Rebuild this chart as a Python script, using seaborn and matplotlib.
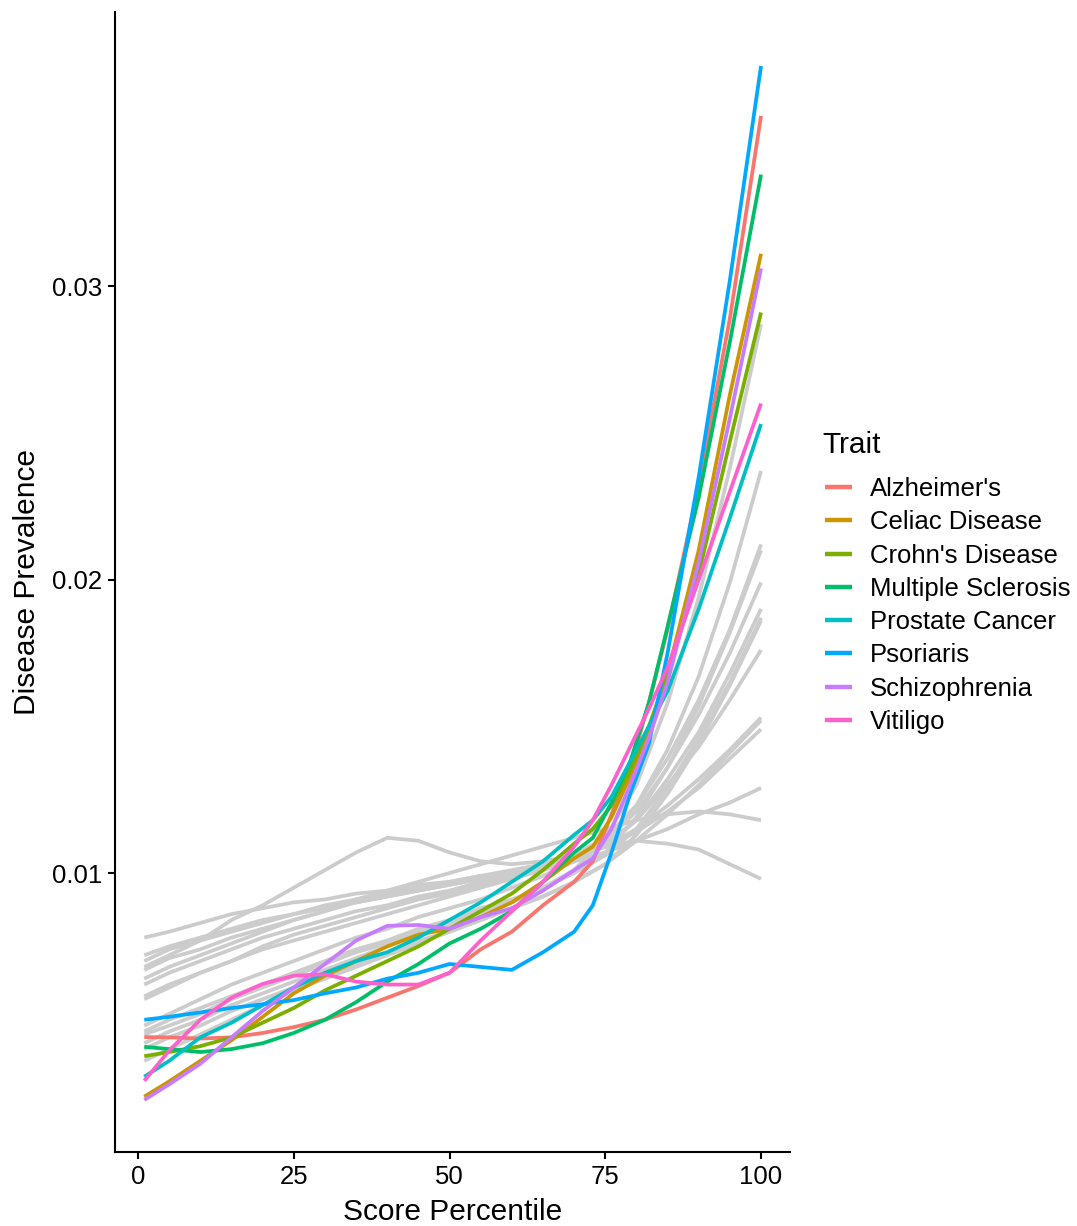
import numpy as np
import pandas as pd
import matplotlib
matplotlib.use("Agg")
import matplotlib.pyplot as plt
import seaborn as sns

# Percentile positions at which each smoothed curve is tabulated
trait_x = [1, 5, 10, 15, 20, 25, 30, 35, 40, 45, 50, 55, 60, 65, 70,
           73, 76, 79, 82, 85, 90, 95, 100]
background_x = [1, 5, 10, 15, 20, 25, 30, 35, 40, 45, 50, 55, 60, 65, 70,
                75, 80, 85, 90, 95, 100]

traits = ["Alzheimer's", "Celiac Disease", "Crohn's Disease", "Multiple Sclerosis",
          "Prostate Cancer", "Psoriaris", "Schizophrenia", "Vitiligo"]
trait_colors = ["#F8766D", "#CD9600", "#7CAE00", "#00BE67",
                "#00BFC4", "#00A9FF", "#C77CFF", "#FF61CC"]

alzheimers = [0.00441, 0.00440, 0.00436, 0.00440, 0.00455, 0.00475, 0.00500, 0.00535,
              0.00575, 0.00615, 0.00660, 0.00740, 0.00800, 0.00890, 0.00970,
              0.01040, 0.01200, 0.01360, 0.01580, 0.01830, 0.02320, 0.02890, 0.03580]
celiac = [0.00238, 0.00290, 0.00360, 0.00430, 0.00510, 0.00590, 0.00650, 0.00700,
          0.00750, 0.00790, 0.00810, 0.00850, 0.00900, 0.00970, 0.01050,
          0.01090, 0.01190, 0.01330, 0.01480, 0.01680, 0.02100, 0.02630, 0.03110]
crohns = [0.00376, 0.00390, 0.00410, 0.00440, 0.00490, 0.00540, 0.00600, 0.00650,
          0.00700, 0.00750, 0.00810, 0.00870, 0.00930, 0.01010, 0.01100,
          0.01150, 0.01230, 0.01350, 0.01500, 0.01680, 0.02020, 0.02470, 0.02910]
multiple_sclerosis = [0.00408, 0.00400, 0.00390, 0.00400, 0.00420, 0.00455, 0.00500, 0.00560,
                      0.00630, 0.00690, 0.00760, 0.00810, 0.00870, 0.00970, 0.01070,
                      0.01120, 0.01240, 0.01380, 0.01580, 0.01840, 0.02280, 0.02810, 0.03380]
prostate = [0.00306, 0.00360, 0.00440, 0.00490, 0.00550, 0.00610, 0.00660, 0.00700,
            0.00730, 0.00780, 0.00840, 0.00900, 0.00970, 0.01040, 0.01130,
            0.01180, 0.01260, 0.01380, 0.01500, 0.01620, 0.01900, 0.02210, 0.02530]
psoriaris = [0.00500, 0.00510, 0.00525, 0.00540, 0.00553, 0.00567, 0.00590, 0.00610,
             0.00640, 0.00660, 0.00690, 0.00680, 0.00670, 0.00730, 0.00800,
             0.00890, 0.01070, 0.01270, 0.01440, 0.01750, 0.02350, 0.03020, 0.03750]
schizophrenia = [0.00227, 0.00280, 0.00350, 0.00440, 0.00530, 0.00610, 0.00690, 0.00770,
                 0.00820, 0.00823, 0.00810, 0.00850, 0.00880, 0.00940, 0.01010,
                 0.01050, 0.01150, 0.01300, 0.01460, 0.01650, 0.02060, 0.02550, 0.03060]
vitiligo = [0.00292, 0.00395, 0.00500, 0.00575, 0.00622, 0.00650, 0.00655, 0.00630,
            0.00620, 0.00620, 0.00660, 0.00770, 0.00870, 0.00970, 0.01090,
            0.01180, 0.01300, 0.01430, 0.01560, 0.01700, 0.02000, 0.02300, 0.02600]

trait_values = [alzheimers, celiac, crohns, multiple_sclerosis,
                prostate, psoriaris, schizophrenia, vitiligo]

# Remaining traits, drawn in grey behind the highlighted ones
bg01 = [0.0045, 0.0048, 0.0052, 0.0057, 0.0061, 0.0065, 0.0069, 0.0073, 0.0076, 0.0080, 0.0083,
        0.0087, 0.0090, 0.0095, 0.0101, 0.0112, 0.0130, 0.0158, 0.0194, 0.0238, 0.0287]
bg02 = [0.0048, 0.0052, 0.0057, 0.0062, 0.0066, 0.0070, 0.0074, 0.0078, 0.0081, 0.0085, 0.0088,
        0.0091, 0.0095, 0.0099, 0.0104, 0.0111, 0.0123, 0.0142, 0.0167, 0.0199, 0.0237]
bg03 = [0.0058, 0.0062, 0.0066, 0.0070, 0.0074, 0.0077, 0.0080, 0.0083, 0.0086, 0.0089, 0.0092,
        0.0095, 0.0098, 0.0102, 0.0106, 0.0112, 0.0123, 0.0139, 0.0159, 0.0183, 0.0212]
bg04 = [0.0042, 0.0046, 0.0050, 0.0055, 0.0059, 0.0063, 0.0067, 0.0071, 0.0075, 0.0079, 0.0082,
        0.0086, 0.0090, 0.0095, 0.0100, 0.0107, 0.0119, 0.0136, 0.0157, 0.0182, 0.0210]
bg05 = [0.0062, 0.0066, 0.0070, 0.0074, 0.0078, 0.0081, 0.0084, 0.0087, 0.0089, 0.0092, 0.0094,
        0.0097, 0.0099, 0.0102, 0.0106, 0.0111, 0.0121, 0.0136, 0.0154, 0.0175, 0.0199]
bg06 = [0.0067, 0.0071, 0.0074, 0.0078, 0.0081, 0.0084, 0.0087, 0.0090, 0.0092, 0.0094, 0.0096,
        0.0098, 0.0100, 0.0102, 0.0105, 0.0109, 0.0118, 0.0132, 0.0148, 0.0168, 0.0190]
bg07 = [0.0046, 0.0050, 0.0054, 0.0058, 0.0062, 0.0066, 0.0070, 0.0074, 0.0077, 0.0081, 0.0084,
        0.0088, 0.0091, 0.0095, 0.0100, 0.0106, 0.0115, 0.0129, 0.0146, 0.0165, 0.0187]
bg08 = [0.0040, 0.0044, 0.0048, 0.0053, 0.0057, 0.0061, 0.0065, 0.0069, 0.0073, 0.0077, 0.0080,
        0.0084, 0.0088, 0.0092, 0.0097, 0.0103, 0.0113, 0.0127, 0.0144, 0.0164, 0.0186]
bg09 = [0.0070, 0.0074, 0.0077, 0.0080, 0.0083, 0.0086, 0.0088, 0.0090, 0.0092, 0.0094, 0.0096,
        0.0098, 0.0100, 0.0103, 0.0106, 0.0110, 0.0118, 0.0130, 0.0143, 0.0159, 0.0176]
bg10 = [0.0078, 0.0080, 0.0083, 0.0086, 0.0088, 0.0090, 0.0091, 0.0093, 0.0094, 0.0096, 0.0097,
        0.0099, 0.0100, 0.0102, 0.0105, 0.0109, 0.0115, 0.0123, 0.0132, 0.0142, 0.0153]
bg11 = [0.0036, 0.0040, 0.0045, 0.0050, 0.0055, 0.0060, 0.0064, 0.0068, 0.0072, 0.0076, 0.0080,
        0.0084, 0.0088, 0.0092, 0.0097, 0.0103, 0.0111, 0.0120, 0.0130, 0.0141, 0.0152]
bg12 = [0.0072, 0.0075, 0.0078, 0.0081, 0.0084, 0.0086, 0.0089, 0.0091, 0.0093, 0.0095, 0.0097,
        0.0099, 0.0101, 0.0103, 0.0106, 0.0109, 0.0114, 0.0121, 0.0129, 0.0139, 0.0149]
bg13 = [0.0057, 0.0061, 0.0066, 0.0070, 0.0075, 0.0079, 0.0082, 0.0085, 0.0088, 0.0091, 0.0093,
        0.0096, 0.0098, 0.0101, 0.0104, 0.0107, 0.0111, 0.0115, 0.0120, 0.0124, 0.0129]
bg14 = [0.0064, 0.0068, 0.0072, 0.0076, 0.0080, 0.0084, 0.0087, 0.0091, 0.0094, 0.0097, 0.0100,
        0.0103, 0.0106, 0.0109, 0.0112, 0.0115, 0.0118, 0.0120, 0.0121, 0.0120, 0.0118]
bg15 = [0.0068, 0.0072, 0.0077, 0.0084, 0.0089, 0.0095, 0.0101, 0.0107, 0.0112, 0.0111, 0.0107,
        0.0104, 0.0103, 0.0104, 0.0106, 0.0109, 0.0111, 0.0110, 0.0108, 0.0103, 0.0098]

background_values = [bg01, bg02, bg03, bg04, bg05, bg06, bg07, bg08,
                     bg09, bg10, bg11, bg12, bg13, bg14, bg15]

# Long-format tables for seaborn
trait_df = pd.DataFrame({
    "Score Percentile": np.tile(trait_x, len(traits)),
    "Disease Prevalence": np.concatenate(trait_values),
    "Trait": np.repeat(traits, len(trait_x)),
})
background_df = pd.DataFrame({
    "Score Percentile": np.tile(background_x, len(background_values)),
    "Disease Prevalence": np.concatenate(background_values),
    "line": np.repeat(np.arange(len(background_values)), len(background_x)),
})

sns.set_style("ticks")
plt.rcParams["font.family"] = ["Liberation Sans", "DejaVu Sans"]
plt.rcParams["text.color"] = "black"
plt.rcParams["axes.labelcolor"] = "black"
plt.rcParams["xtick.color"] = "black"
plt.rcParams["ytick.color"] = "black"
plt.rcParams["lines.solid_joinstyle"] = "round"

W, H = 1077, 1226
fig = plt.figure(figsize=(W / 100, H / 100), dpi=100)
ax = fig.add_axes([115 / W, 1 - 1152 / H, (790 - 115) / W, (1152 - 12) / H])

lw = 2.7
sns.lineplot(data=background_df, x="Score Percentile", y="Disease Prevalence",
             units="line", estimator=None, color="#CCCCCC", linewidth=lw,
             legend=False, ax=ax, solid_capstyle="butt", solid_joinstyle="round")
sns.lineplot(data=trait_df, x="Score Percentile", y="Disease Prevalence",
             hue="Trait", hue_order=traits, palette=trait_colors,
             estimator=None, linewidth=lw, ax=ax,
             solid_capstyle="butt", solid_joinstyle="round")

ax.set_xlim(-3.7, 104.65)
ax.set_ylim(0.000494, 0.03934)
ax.set_xticks([0, 25, 50, 75, 100])
ax.set_xticklabels(["0", "25", "50", "75", "100"])
ax.set_yticks([0.01, 0.02, 0.03])
ax.set_yticklabels(["0.01", "0.02", "0.03"])

for side in ("top", "right"):
    ax.spines[side].set_visible(False)
for side in ("left", "bottom"):
    ax.spines[side].set_linewidth(1.5)
    ax.spines[side].set_color("black")
ax.tick_params(axis="both", which="major", length=5, width=1.5,
               labelsize=18.5, pad=4)
ax.set_xlabel("Score Percentile", fontsize=21.5, labelpad=7)
ax.set_ylabel("Disease Prevalence", fontsize=21.5, labelpad=8)

handles, labels = ax.get_legend_handles_labels()
for h in handles:
    h.set_linewidth(3.2)
leg = ax.legend(handles, labels, loc="center left",
                bbox_to_anchor=(825 / W, 1 - 605.5 / H), bbox_transform=fig.transFigure,
                frameon=False, fontsize=18.5,
                handlelength=1.05, handletextpad=0.7, labelspacing=0.36,
                borderpad=0, borderaxespad=0)
fig.text(822 / W, 1 - 445 / H, "Trait", fontsize=21.5, ha="left", va="center")

fig.savefig("out.png", dpi=100)
